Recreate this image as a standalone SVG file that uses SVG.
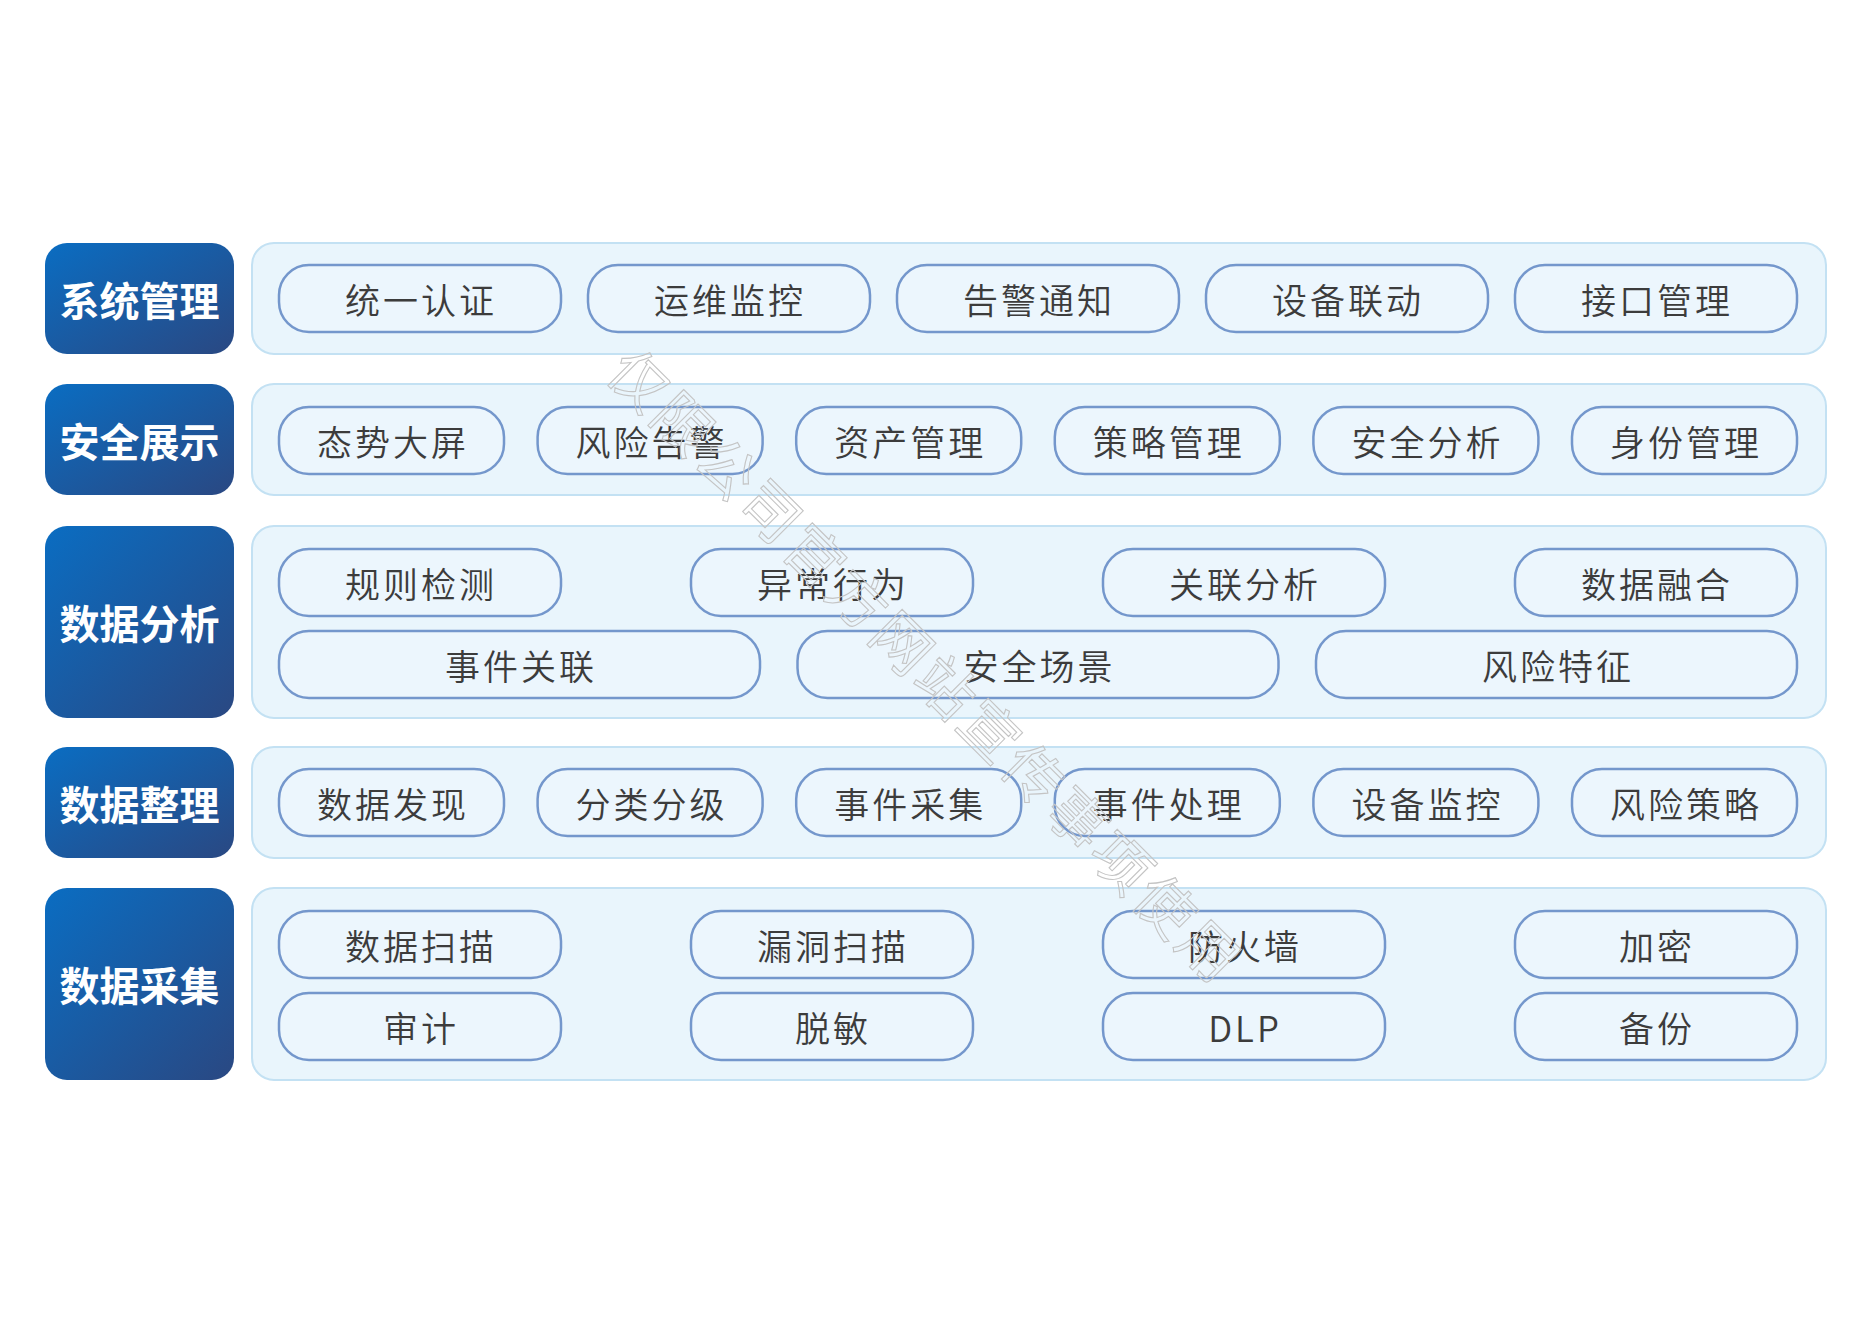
<svg xmlns="http://www.w3.org/2000/svg" width="1871" height="1323" viewBox="0 0 1871 1323">
<defs>
<linearGradient id="lg" x1="0" y1="0" x2="1" y2="1">
<stop offset="0" stop-color="#0a6dc2"/>
<stop offset="1" stop-color="#2a4882"/>
</linearGradient>
<style>
.lab{fill:url(#lg)}
.labt{fill:#ffffff;font-family:"Noto Sans CJK SC","Noto Sans",sans-serif;font-weight:700;font-size:40px;text-anchor:middle;dominant-baseline:central}
.panel{fill:#e9f5fc;stroke:#c3e1f3;stroke-width:2}
.pill{fill:#ecf6fd;stroke:#7497cc;stroke-width:2.5}
.pt{fill:#3c3c3c;font-family:"Noto Sans CJK SC","Noto Sans",sans-serif;font-weight:350;font-size:35px;letter-spacing:3px;text-anchor:middle;dominant-baseline:central}
.wm{fill:none;stroke:#c4c4c4;stroke-width:1.1;font-family:"Noto Sans CJK SC",sans-serif;font-size:58px;letter-spacing:4px;text-anchor:middle;dominant-baseline:central}
</style>
</defs>
<rect width="1871" height="1323" fill="#ffffff"/>

<g id="row1">
<rect class="lab" x="45" y="243" width="189" height="111" rx="22"/>
<text class="labt" x="139.5" y="298.5">系统管理</text>
<rect class="panel" x="252" y="243" width="1574" height="111" rx="22"/>
<g id="n1-1"><rect class="pill" x="279" y="265" width="282" height="67" rx="30"/><text class="pt" x="421" y="298">统一认证</text></g>
<g id="n1-2"><rect class="pill" x="588" y="265" width="282" height="67" rx="30"/><text class="pt" x="730" y="298">运维监控</text></g>
<g id="n1-3"><rect class="pill" x="897" y="265" width="282" height="67" rx="30"/><text class="pt" x="1039" y="298">告警通知</text></g>
<g id="n1-4"><rect class="pill" x="1206" y="265" width="282" height="67" rx="30"/><text class="pt" x="1348" y="298">设备联动</text></g>
<g id="n1-5"><rect class="pill" x="1515" y="265" width="282" height="67" rx="30"/><text class="pt" x="1657" y="298">接口管理</text></g>
</g>

<g id="row2">
<rect class="lab" x="45" y="384" width="189" height="111" rx="22"/>
<text class="labt" x="139.5" y="439.5">安全展示</text>
<rect class="panel" x="252" y="384" width="1574" height="111" rx="22"/>
<g id="n2-1"><rect class="pill" x="279" y="407" width="225" height="67" rx="30"/><text class="pt" x="393" y="440">态势大屏</text></g>
<g id="n2-2"><rect class="pill" x="537.6" y="407" width="225" height="67" rx="30"/><text class="pt" x="651.6" y="440">风险告警</text></g>
<g id="n2-3"><rect class="pill" x="796.2" y="407" width="225" height="67" rx="30"/><text class="pt" x="910.2" y="440">资产管理</text></g>
<g id="n2-4"><rect class="pill" x="1054.8" y="407" width="225" height="67" rx="30"/><text class="pt" x="1168.8" y="440">策略管理</text></g>
<g id="n2-5"><rect class="pill" x="1313.4" y="407" width="225" height="67" rx="30"/><text class="pt" x="1427.4" y="440">安全分析</text></g>
<g id="n2-6"><rect class="pill" x="1572" y="407" width="225" height="67" rx="30"/><text class="pt" x="1686" y="440">身份管理</text></g>
</g>

<g id="row3">
<rect class="lab" x="45" y="526" width="189" height="192" rx="22"/>
<text class="labt" x="139.5" y="622">数据分析</text>
<rect class="panel" x="252" y="526" width="1574" height="192" rx="22"/>
<g id="n3-1"><rect class="pill" x="279" y="549" width="282" height="67" rx="30"/><text class="pt" x="421" y="582">规则检测</text></g>
<g id="n3-2"><rect class="pill" x="691" y="549" width="282" height="67" rx="30"/><text class="pt" x="833" y="582">异常行为</text></g>
<g id="n3-3"><rect class="pill" x="1103" y="549" width="282" height="67" rx="30"/><text class="pt" x="1245" y="582">关联分析</text></g>
<g id="n3-4"><rect class="pill" x="1515" y="549" width="282" height="67" rx="30"/><text class="pt" x="1657" y="582">数据融合</text></g>
<g id="n3-5"><rect class="pill" x="279" y="631" width="481" height="67" rx="30"/><text class="pt" x="521" y="664">事件关联</text></g>
<g id="n3-6"><rect class="pill" x="797.5" y="631" width="481" height="67" rx="30"/><text class="pt" x="1039.5" y="664">安全场景</text></g>
<g id="n3-7"><rect class="pill" x="1316" y="631" width="481" height="67" rx="30"/><text class="pt" x="1558" y="664">风险特征</text></g>
</g>

<g id="row4">
<rect class="lab" x="45" y="747" width="189" height="111" rx="22"/>
<text class="labt" x="139.5" y="802.5">数据整理</text>
<rect class="panel" x="252" y="747" width="1574" height="111" rx="22"/>
<g id="n4-1"><rect class="pill" x="279" y="769" width="225" height="67" rx="30"/><text class="pt" x="393" y="802">数据发现</text></g>
<g id="n4-2"><rect class="pill" x="537.6" y="769" width="225" height="67" rx="30"/><text class="pt" x="651.6" y="802">分类分级</text></g>
<g id="n4-3"><rect class="pill" x="796.2" y="769" width="225" height="67" rx="30"/><text class="pt" x="910.2" y="802">事件采集</text></g>
<g id="n4-4"><rect class="pill" x="1054.8" y="769" width="225" height="67" rx="30"/><text class="pt" x="1168.8" y="802">事件处理</text></g>
<g id="n4-5"><rect class="pill" x="1313.4" y="769" width="225" height="67" rx="30"/><text class="pt" x="1427.4" y="802">设备监控</text></g>
<g id="n4-6"><rect class="pill" x="1572" y="769" width="225" height="67" rx="30"/><text class="pt" x="1686" y="802">风险策略</text></g>
</g>

<g id="row5">
<rect class="lab" x="45" y="888" width="189" height="192" rx="22"/>
<text class="labt" x="139.5" y="984">数据采集</text>
<rect class="panel" x="252" y="888" width="1574" height="192" rx="22"/>
<g id="n5-1"><rect class="pill" x="279" y="911" width="282" height="67" rx="30"/><text class="pt" x="421" y="944">数据扫描</text></g>
<g id="n5-2"><rect class="pill" x="691" y="911" width="282" height="67" rx="30"/><text class="pt" x="833" y="944">漏洞扫描</text></g>
<g id="n5-3"><rect class="pill" x="1103" y="911" width="282" height="67" rx="30"/><text class="pt" x="1245" y="944">防火墙</text></g>
<g id="n5-4"><rect class="pill" x="1515" y="911" width="282" height="67" rx="30"/><text class="pt" x="1657" y="944">加密</text></g>
<g id="n5-5"><rect class="pill" x="279" y="993" width="282" height="67" rx="30"/><text class="pt" x="421" y="1026">审计</text></g>
<g id="n5-6"><rect class="pill" x="691" y="993" width="282" height="67" rx="30"/><text class="pt" x="833" y="1026">脱敏</text></g>
<g id="n5-7"><rect class="pill" x="1103" y="993" width="282" height="67" rx="30"/><text class="pt" x="1245" y="1026">DLP</text></g>
<g id="n5-8"><rect class="pill" x="1515" y="993" width="282" height="67" rx="30"/><text class="pt" x="1657" y="1026">备份</text></g>
</g>

<g id="connectors"></g>

<g id="watermark">
<text class="wm" x="928" y="664" transform="rotate(45 928 664)">仅限公司官方网站宣传事项使用</text>
</g>
</svg>
